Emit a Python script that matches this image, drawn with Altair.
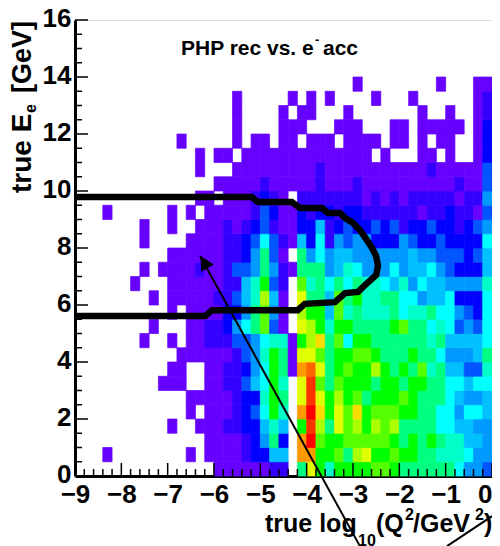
import altair as alt
import pandas as pd

# Histogram levels, one string per row from E=0 upward, 45 log10(Q2) bins from -9 to 0.
# '.' is an empty bin; a..r run along the rainbow palette.
rows = [
    ".........." ".....aaaaa" "abb.imjhjj" "jjkkjiiiii" "igeed",
    "...a......" "..a.aaaabc" "cff.oojjki" "lmjjkjjiih" "hhgee",
    ".........." "....aaaabc" "eic.orkjjk" "kkkkjijiji" "hhffe",
    ".........." "a..aaabbcc" "fhf.jqlimk" "ljlkliiiig" "gffee",
    ".........." "..a.aaabcd" "gjh.ornjmk" "njkkkjjiig" "geggf",
    ".........." "..aaaaabcc" "hji.mqmjlj" "kijjjkjiii" "gfeef",
    ".........a" "aa..aabbdf" "gjh.mqkikj" "jjijjijjii" "ggfgg",
    ".........." "aa..aabbce" "gjiaopmijk" "jjljijikhi" "ffddh",
    ".........." ".aaaaaabde" "hjiammkijj" "kkjiiijiig" "eeefi",
    ".......a.." "a.aabbbdde" "ghhajlnikg" "jjiiiiiihi" "ffffg",
    "........a." "..aabbcegi" "kda.mljhjj" "iiiijkiigh" "gdedg",
    ".........." "a.aaaaccei" "kea.ljjfkh" "ihhhighhig" "gedcg",
    "........a." "aaaaabbdfh" "lfa.miifki" "jhhiiggeff" "gcccg",
    "......a..." "aaaaaabbfh" "jdb.khigig" "ihhgfhegff" "eeeeh",
    ".......a.a" "aaabaabdde" "iebaiiiefh" "geeegeffge" "dcccf",
    ".........." "aaaaaabbce" "ida.iegeff" "eeeeeefeed" "ddcdf",
    ".......a.." "..aaaabbcd" "gdbafcgbed" "eecccedccd" "ccccg",
    ".......a.." "a..aaababc" "dbaaccfbcd" "ccdcdbccdc" "cbcde",
    "...a......" "a.a.aaaaab" "dcaacbccbc" "cbbbbbbabb" "cbbad",
    ".........." "...aa.aaab" "cba.bbbbbb" "babababbbb" "babbe",
    ".........." ".....aaaaa" "baaaaabaaa" "baaaaaaaaa" "abaad",
    ".........." "...a...aaa" "aaaaaabaaa" "aaaaaaaaba" "aaaad",
    ".........." "...a.aa.aa" "aaaaaaaaaa" "aa.a...aa." "a..ac",
    ".........." ".a.....a.a" "a.aa.aaa.a" "aaa.aa.a.a" "a..ac",
    ".........." ".......a.." "..aaa...aa" "a...aa.aaa" "aa.ac",
    ".........." ".......a.." "..a.aa...a" ".......a.." "a..ab",
    ".........." ".......a.." "...a.a.a.." "..a...a..." "...ab",
    ".........." ".........." ".........." "a........a" "...aa",
]
level_names = list("abcdefghijklmnopqr")
level_colors = ["#6600ff", "#3300ff", "#0000ff", "#0055ff", "#0099ff", "#00c0ff",
                "#00ffff", "#00ffc8", "#00ff80", "#00ff00", "#55ff00", "#aaff00",
                "#e0ff00", "#ffdd00", "#ff9900", "#ff6600", "#ff3300", "#ff0000"]

contour_x = [-9, -5.18, -5.05, -4.32, -4.14, -3.67, -3.54, -3.28, -3.17, -3.02, -2.85, -2.7,
             -2.59, -2.5, -2.46, -2.5, -2.74, -2.89, -3.17, -3.39, -4.04, -4.19, -6.04, -6.19, -9]
contour_y = [9.79, 9.79, 9.61, 9.61, 9.4, 9.4, 9.23, 9.23, 9.05, 8.91, 8.63, 8.28,
             8.0, 7.72, 7.37, 7.05, 6.7, 6.46, 6.42, 6.1, 6.04, 5.82, 5.82, 5.61, 5.61]

x_ticks = [-9 + 0.2 * i for i in range(46)]
y_ticks = [0.5 * i for i in range(33)]
x_labels = list(range(-9, 1))
y_labels = list(range(0, 17, 2))

arrow_x = [-6.3, -2.85]
arrow_y = [7.72, -2.46]
slash_x = [-0.97, 0.0]
slash_y = [-2.46, -1.41]

FONT = "Liberation Sans"
PLOT_W, PLOT_H = 417, 456
X0, Y0 = 75, 20  # plot origin in the page

cells = []
for r, row in enumerate(rows):
    for c, ch in enumerate(row):
        if ch != ".":
            cells.append({"x": -9 + 0.2 * c, "x2": -9 + 0.2 * (c + 1),
                          "y": 0.5 * r, "y2": 0.5 * (r + 1), "lev": ch})
cells = pd.DataFrame(cells)

xs = alt.Scale(domain=[-9, 0], nice=False, zero=False)
ys = alt.Scale(domain=[0, 16], nice=False, zero=False)
cs = alt.Scale(domain=level_names, range=level_colors)

x_axis = alt.Axis(values=x_labels, format="d", ticks=False, grid=False, title=None,
                  domainWidth=3, domainColor="black", labelFont=FONT, labelFontWeight="bold",
                  labelFontSize=26, labelColor="black", labelPadding=5, labelFlush=False,
                  labelOverlap=False, labelAlign=alt.expr("datum.value == 0 ? 'right' : 'center'"))
y_axis = alt.Axis(values=y_labels, format="d", ticks=False, grid=False, title=None,
                  domainWidth=3, domainColor="black", labelFont=FONT, labelFontWeight="bold",
                  labelFontSize=26, labelColor="black", labelPadding=4, labelOverlap=False,
                  labelFlush=False, labelOffset=-2)

heat = alt.Chart(cells).mark_rect(strokeWidth=0.7).encode(
    x=alt.X("x:Q", scale=xs, axis=x_axis),
    x2="x2:Q",
    y=alt.Y("y:Q", scale=ys, axis=y_axis),
    y2="y2:Q",
    color=alt.Color("lev:N", scale=cs, legend=None),
    stroke=alt.Color("lev:N", scale=cs, legend=None),
)

contour_df = pd.DataFrame({"x": contour_x, "y": contour_y, "o": range(len(contour_x))})
contour = alt.Chart(contour_df).mark_line(color="black", strokeWidth=6.5, strokeJoin="miter").encode(
    x=alt.X("x:Q", scale=xs), y=alt.Y("y:Q", scale=ys), order="o:Q")

MAJOR, MINOR = 13 / 28.5, 7 / 28.5
xt = pd.DataFrame({"x": x_ticks, "y": 0.0,
                   "y2": [MAJOR if i % 5 == 0 else MINOR for i in range(len(x_ticks))]})
xtick_layer = alt.Chart(xt).mark_rule(color="black", strokeWidth=1.5).encode(
    x=alt.X("x:Q", scale=xs), y=alt.Y("y:Q", scale=ys), y2="y2:Q")
MAJORX, MINORX = 13 / 46.33, 7 / 46.33
yt = pd.DataFrame({"y": y_ticks, "x": -9.0,
                   "x2": [-9 + (MAJORX if i % 4 == 0 else MINORX) for i in range(len(y_ticks))]})
ytick_layer = alt.Chart(yt).mark_rule(color="black", strokeWidth=1.5).encode(
    y=alt.Y("y:Q", scale=ys), x=alt.X("x:Q", scale=xs), x2="x2:Q")

arrow = alt.Chart(pd.DataFrame({"x": arrow_x, "y": arrow_y})).mark_line(
    color="black", strokeWidth=2, clip=False).encode(
    x=alt.X("x:Q", scale=xs), y=alt.Y("y:Q", scale=ys))
slash = alt.Chart(pd.DataFrame({"x": slash_x, "y": slash_y})).mark_line(
    color="black", strokeWidth=2, clip=False).encode(
    x=alt.X("x:Q", scale=xs), y=alt.Y("y:Q", scale=ys))
head = alt.Chart(pd.DataFrame({"x": [-6.216], "y": [7.51]})).mark_point(
    shape="M0,-1L-1,1L1,1Z", size=207, angle=330, filled=True, color="black", opacity=1).encode(
    x=alt.X("x:Q", scale=xs), y=alt.Y("y:Q", scale=ys))

def label(txt, px, py, size, angle=0, align="left", baseline="alphabetic"):
    return alt.Chart(pd.DataFrame({"t": [txt]})).mark_text(
        font=FONT, fontWeight="bold", fontSize=size, angle=angle, align=align,
        baseline=baseline, color="black").encode(
        x=alt.value(px - X0), y=alt.value(py - Y0), text="t:N")

texts = [
    label("PHP rec vs. e", 181, 55, 21),
    label("-", 315, 44, 13),
    label("acc", 323, 55, 21),
    label("true log", 265, 532, 25),
    label("10", 358, 546, 16),
    label("(Q", 376, 532, 25),
    label("2", 405, 520, 16),
    label("/GeV", 413, 532, 25),
    label("2", 475, 520, 16),
    label(")", 484, 532, 25),
    label("true E", 31, 193, 28, angle=270),
    label("e", 36, 113, 16, angle=270),
    label("[GeV]", 31, 93, 27, angle=270),
]

chart = alt.layer(heat, contour, xtick_layer, ytick_layer, arrow, slash, head, *texts).resolve_scale(
    color="shared"
).properties(
    width=PLOT_W, height=PLOT_H,
    autosize=alt.AutoSizeParams(type="none"),
    padding={"left": 67, "top": 12, "right": 0, "bottom": 70},
).configure_view(stroke="black", strokeWidth=2).configure(background="white")

chart.save("out.html", embed_options={"renderer": "svg", "actions": False})
